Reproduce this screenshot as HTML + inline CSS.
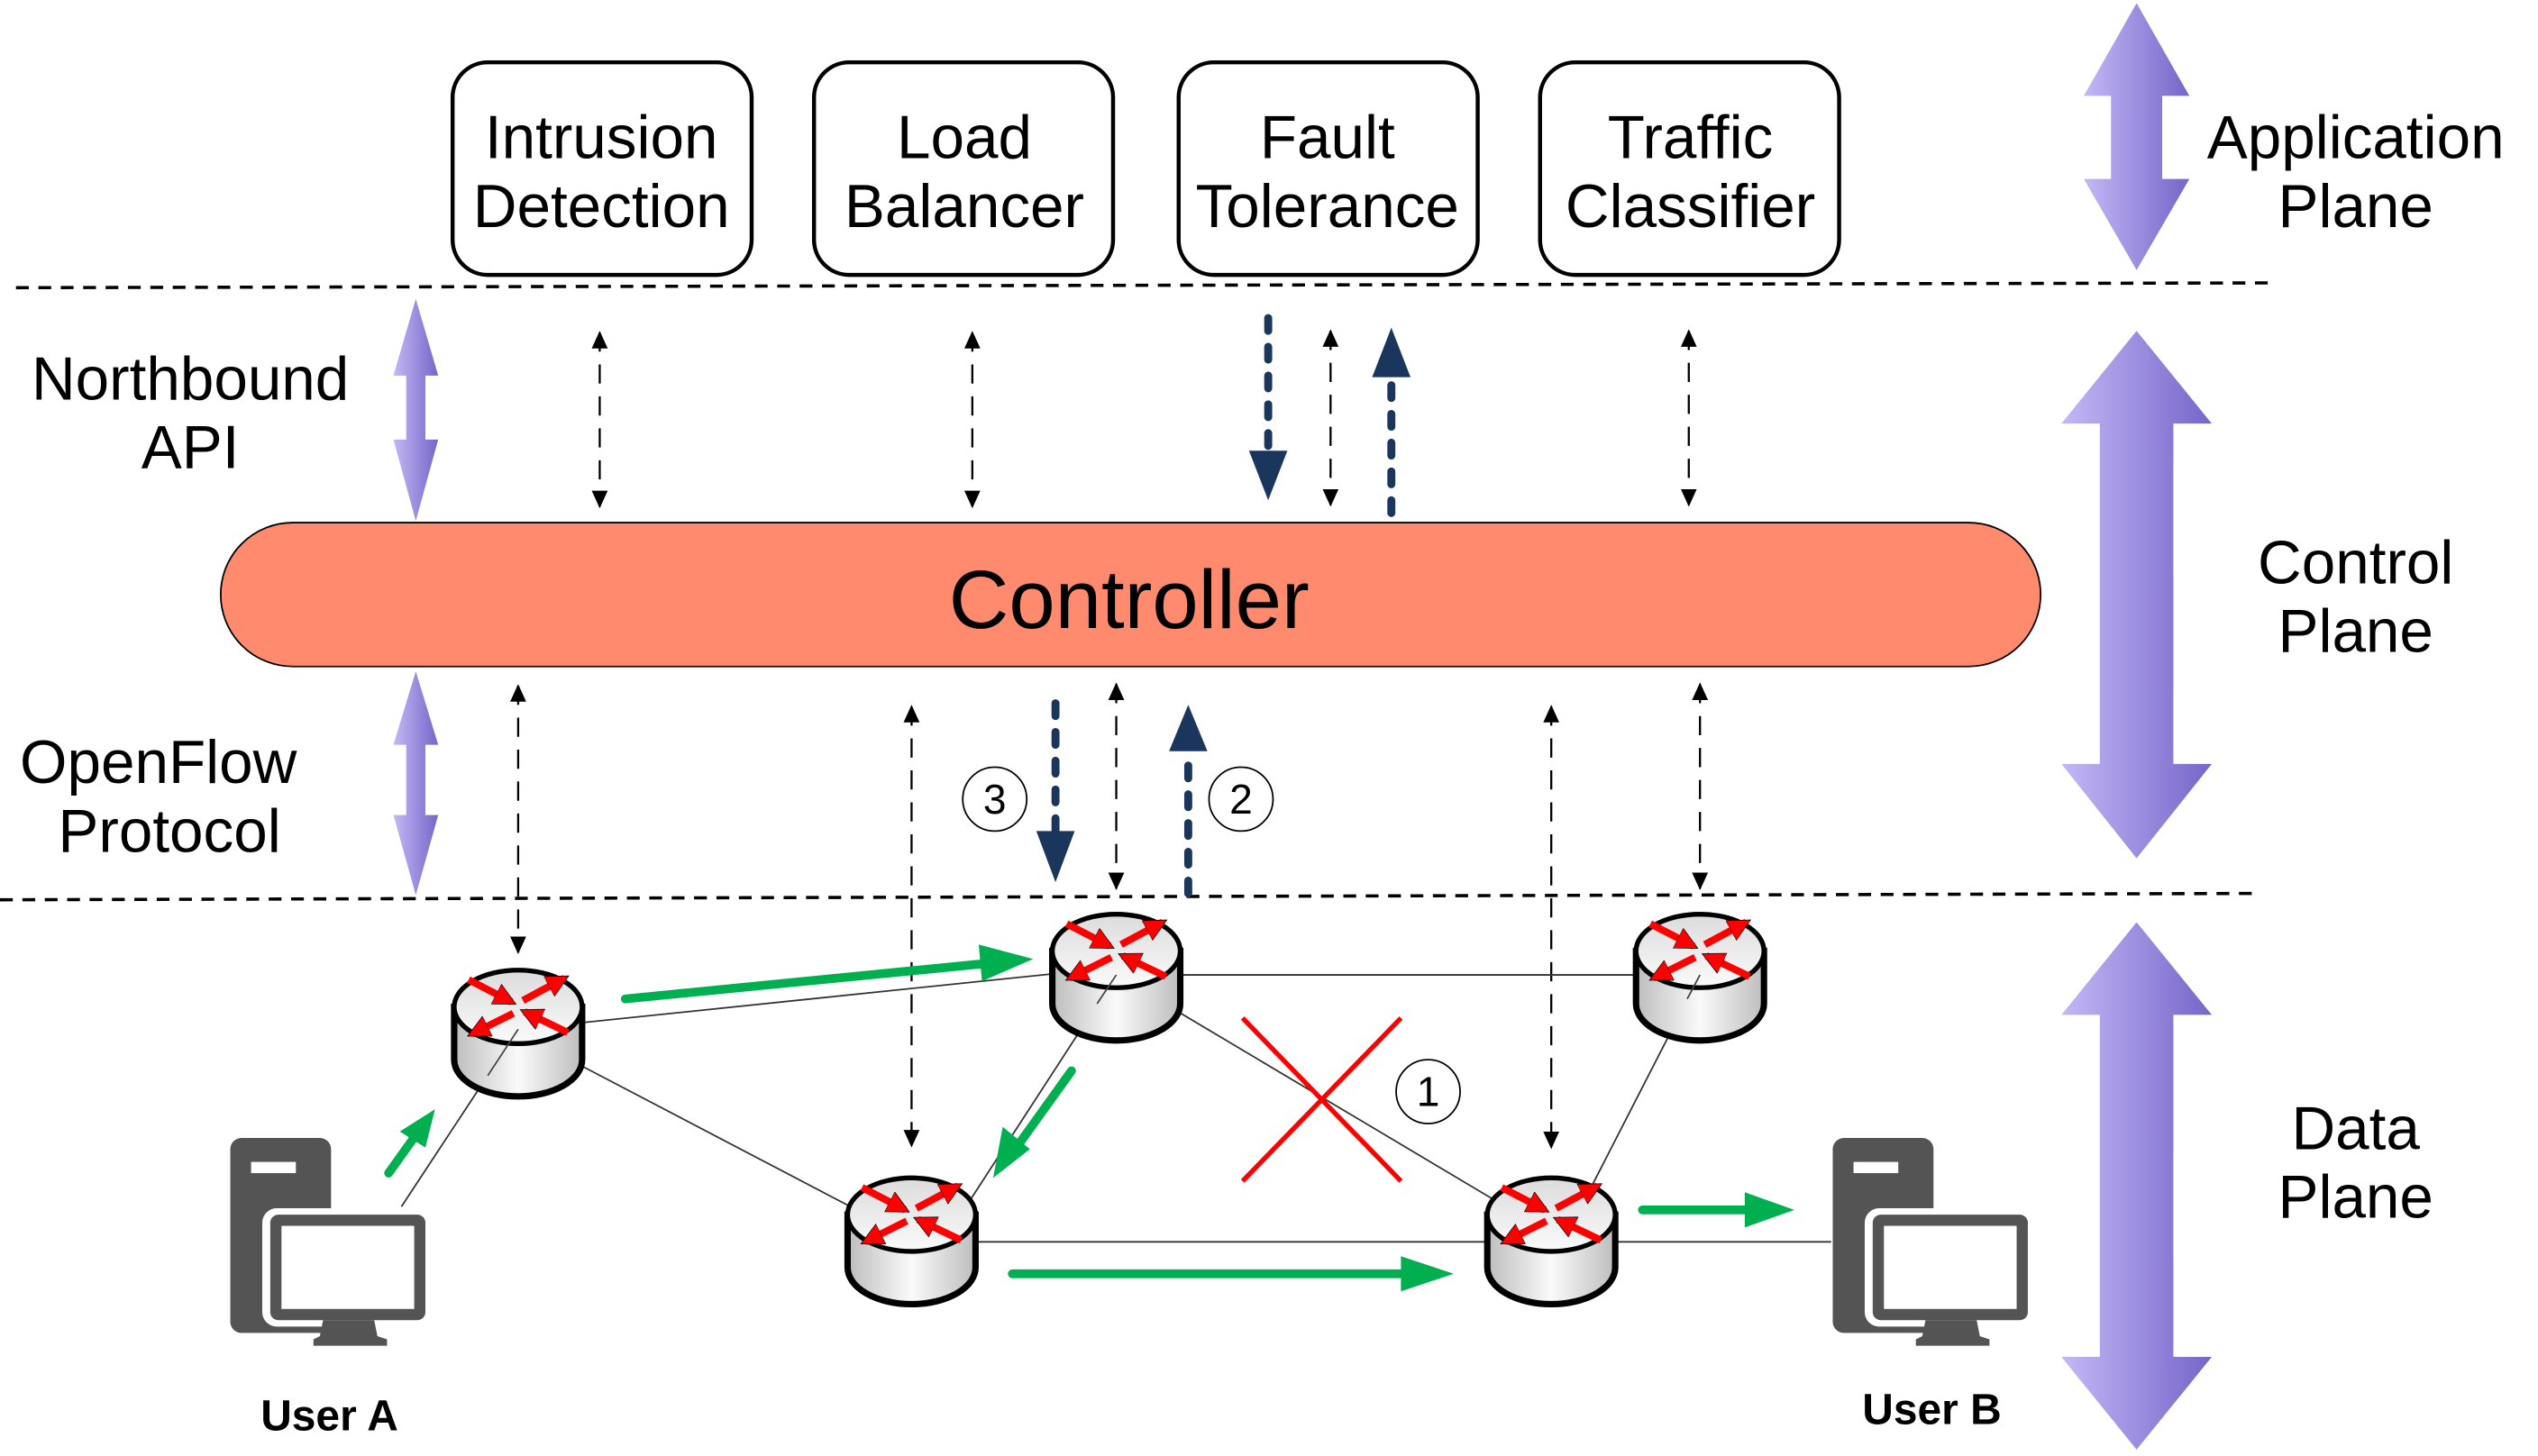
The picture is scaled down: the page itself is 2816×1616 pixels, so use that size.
<!DOCTYPE html>
<html><head><meta charset="utf-8"><style>
html,body{margin:0;padding:0;background:#fff;}
svg{display:block;}
text{font-family:"Liberation Sans",sans-serif;}
</style></head><body>
<svg width="2816" height="1616" viewBox="0 0 1587 911" preserveAspectRatio="none" xmlns="http://www.w3.org/2000/svg">
<defs>
<linearGradient id="pg" x1="0" x2="1" y1="0" y2="0"><stop offset="0" stop-color="#c4b8f6"/><stop offset="1" stop-color="#7565c9"/></linearGradient>
<linearGradient id="body" x1="0" x2="1"><stop offset="0" stop-color="#bdbdbd"/><stop offset="0.5" stop-color="#fafafa"/><stop offset="1" stop-color="#bdbdbd"/></linearGradient>
<linearGradient id="top" x1="0" x2="0" y1="0" y2="1"><stop offset="0" stop-color="#dcdcdc"/><stop offset="1" stop-color="#fafafa"/></linearGradient>
<marker id="ma" markerUnits="userSpaceOnUse" markerWidth="12" markerHeight="14" refX="10" refY="5" orient="auto"><path d="M0,0 L11,5 L0,10z" fill="#000"/></marker>
<marker id="mas" markerUnits="userSpaceOnUse" markerWidth="12" markerHeight="14" refX="1" refY="5" orient="auto"><path d="M11,0 L0,5 L11,10z" fill="#000"/></marker>
<marker id="mr" markerUnits="userSpaceOnUse" markerWidth="16" markerHeight="16" refX="11" refY="7" orient="auto"><path d="M0,0 L14,7 L0,14z" fill="#f00" stroke="#000" stroke-width="0.4"/></marker>
<g id="router">
 <path d="M-40,0 L-40,33 A40,23 0 0 0 40,33 L40,0 Z" fill="url(#body)" stroke="#000" stroke-width="4"/>
 <ellipse cx="0" cy="0" rx="40" ry="23" fill="url(#top)" stroke="#000" stroke-width="3"/>
 <g stroke="#f00" stroke-width="4.5" fill="none">
  <line x1="-31" y1="-17" x2="-4" y2="-3" marker-end="url(#mr)"/>
  <line x1="31" y1="16" x2="4" y2="3" marker-end="url(#mr)"/>
  <line x1="3" y1="-4" x2="29" y2="-18" marker-end="url(#mr)"/>
  <line x1="-3" y1="4" x2="-29" y2="17" marker-end="url(#mr)"/>
 </g>
</g>
<g id="pc" fill="#545454">
 <rect x="0" y="0" width="63" height="122" rx="7"/>
 <rect x="13" y="15" width="28" height="7" fill="#fff"/>
 <rect x="20" y="44" width="106" height="74" rx="9" fill="#fff"/>
 <rect x="25" y="48" width="97" height="66" rx="5"/>
 <rect x="32" y="55" width="83" height="52" fill="#fff"/>
 <path d="M58,114 L90,114 L92,124 L98,126 L98,130 L52,130 L52,126 L56,124 Z"/>
</g>
</defs>

<line x1="10" y1="180" x2="1422" y2="177" stroke="#000" stroke-width="2" stroke-dasharray="8,6"/>
<line x1="0" y1="563" x2="1412" y2="559" stroke="#000" stroke-width="2" stroke-dasharray="8,6"/>

<g fill="#fff" stroke="#000" stroke-width="2.5">
<rect x="283" y="39" width="187" height="133" rx="22"/>
<rect x="509" y="39" width="187" height="133" rx="22"/>
<rect x="737" y="39" width="187" height="133" rx="22"/>
<rect x="963" y="39" width="187" height="133" rx="22"/>
</g>
<g font-size="38" text-anchor="middle" fill="#000">
<text x="376" y="99">Intrusion</text><text x="376" y="142">Detection</text>
<text x="603" y="99">Load</text><text x="603" y="142">Balancer</text>
<text x="830" y="99">Fault</text><text x="830" y="142">Tolerance</text>
<text x="1057" y="99">Traffic</text><text x="1057" y="142">Classifier</text>
<text x="1473" y="99">Application</text><text x="1473" y="142">Plane</text>
<text x="1473" y="365">Control</text><text x="1473" y="408">Plane</text>
<text x="1473" y="719">Data</text><text x="1473" y="762">Plane</text>
<text x="119" y="250">Northbound</text><text x="119" y="293">API</text>
<text x="99" y="490">OpenFlow</text><text x="106" y="533">Protocol</text>
</g>

<path d="M1336,2 L1369,60 L1352,60 L1352,112 L1369,112 L1336,169 L1303,112 L1320,112 L1320,60 L1303,60 Z" fill="url(#pg)"/>
<path d="M1336,207 L1383,265 L1359,265 L1359,478 L1383,478 L1336,537 L1289,478 L1313,478 L1313,265 L1289,265 Z" fill="url(#pg)"/>
<path d="M1336,577 L1383,635 L1359,635 L1359,849 L1383,849 L1336,907 L1289,849 L1313,849 L1313,635 L1289,635 Z" fill="url(#pg)"/>
<path d="M260,187 L274,235 L266,235 L266,275 L274,275 L260,326 L246,275 L254,275 L254,235 L246,235 Z" fill="url(#pg)"/>
<path d="M260,420 L274,466 L266,466 L266,510 L274,510 L260,560 L246,510 L254,510 L254,466 L246,466 Z" fill="url(#pg)"/>

<rect x="138" y="327" width="1138" height="90" rx="45" fill="#FF8A6D" stroke="#000" stroke-width="1"/>
<text x="706" y="393" font-size="52" text-anchor="middle" fill="#000">Controller</text>

<g stroke="#000" stroke-width="1.3" stroke-dasharray="12,8" fill="none" marker-end="url(#ma)" marker-start="url(#mas)">
<line x1="375" y1="208" x2="375" y2="317"/>
<line x1="608" y1="208" x2="608" y2="317"/>
<line x1="832" y1="207" x2="832" y2="316"/>
<line x1="1056" y1="207" x2="1056" y2="316"/>
<line x1="698" y1="428" x2="698" y2="556"/>
<line x1="1063" y1="428" x2="1063" y2="556"/>
<line x1="324" y1="429" x2="324" y2="596"/>
<line x1="570" y1="442" x2="570" y2="717"/>
<line x1="970" y1="442" x2="970" y2="718"/>
</g>

<g stroke="#1B365D" stroke-width="5" stroke-linecap="round" stroke-dasharray="8,10" fill="none">
<line x1="793" y1="199" x2="793" y2="285"/>
<line x1="870" y1="321" x2="870" y2="237"/>
<line x1="660" y1="440" x2="660" y2="522"/>
<line x1="743" y1="559" x2="743" y2="472"/>
</g>
<g fill="#1B365D">
<path d="M781,282 L805,282 L793,313z"/>
<path d="M858,236 L882,236 L870,205z"/>
<path d="M648,520 L672,520 L660,552z"/>
<path d="M731,470 L755,470 L743,441z"/>
</g>
<g fill="#fff" stroke="#000" stroke-width="1">
<circle cx="622" cy="500" r="20"/><circle cx="776" cy="500" r="20"/><circle cx="893" cy="683" r="20"/>
</g>
<g font-size="26" text-anchor="middle" fill="#000">
<text x="622" y="509">3</text><text x="776" y="509">2</text><text x="893" y="692">1</text>
</g>

<g stroke="#333" stroke-width="1" fill="none">
<line x1="324" y1="644" x2="700" y2="605"/>
<line x1="360" y1="665" x2="570" y2="775"/>
<line x1="324" y1="644" x2="251" y2="755"/>
<line x1="698" y1="610" x2="591" y2="775"/>
<line x1="698" y1="610" x2="970" y2="772"/>
<line x1="698" y1="610" x2="1063" y2="610"/>
<line x1="1063" y1="610" x2="980" y2="772"/>
<line x1="570" y1="777" x2="970" y2="777"/>
<line x1="970" y1="777" x2="1145" y2="777"/>
</g>

<use href="#router" x="324" y="630"/>
<use href="#router" x="698" y="595"/>
<use href="#router" x="1063" y="595"/>
<use href="#router" x="570" y="760"/>
<use href="#router" x="970" y="760"/>
<g stroke="#444" stroke-width="1"><line x1="324" y1="644" x2="305" y2="673"/><line x1="698" y1="610" x2="686" y2="628"/><line x1="1063" y1="610" x2="1055" y2="625"/></g>

<g stroke="#f00" stroke-width="3"><line x1="777" y1="637" x2="876" y2="739"/><line x1="876" y1="637" x2="777" y2="739"/></g>

<g stroke="#00B050" stroke-width="5.5" stroke-linecap="round" fill="none">
<line x1="391" y1="625" x2="615" y2="603"/>
<line x1="670" y1="670" x2="637" y2="716"/>
<line x1="633" y1="797" x2="880" y2="797"/>
<line x1="1027" y1="757" x2="1095" y2="757"/>
<line x1="243" y1="734" x2="258" y2="713"/>
</g>
<g fill="#00B050">
<path d="M612,591 L646,600 L614,614z"/>
<path d="M627,705 L644,719 L621,737z"/>
<path d="M876,786 L909,797 L876,808z"/>
<path d="M1091,746 L1122,757 L1091,768z"/>
<path d="M250,708 L272,694 L266,718z"/>
</g>

<use href="#pc" x="144" y="712"/>
<use href="#pc" x="1146" y="712"/>
<g font-size="27" font-weight="bold" text-anchor="middle" fill="#000">
<text x="206" y="895">User A</text><text x="1208" y="891">User B</text>
</g>
</svg>
</body></html>
